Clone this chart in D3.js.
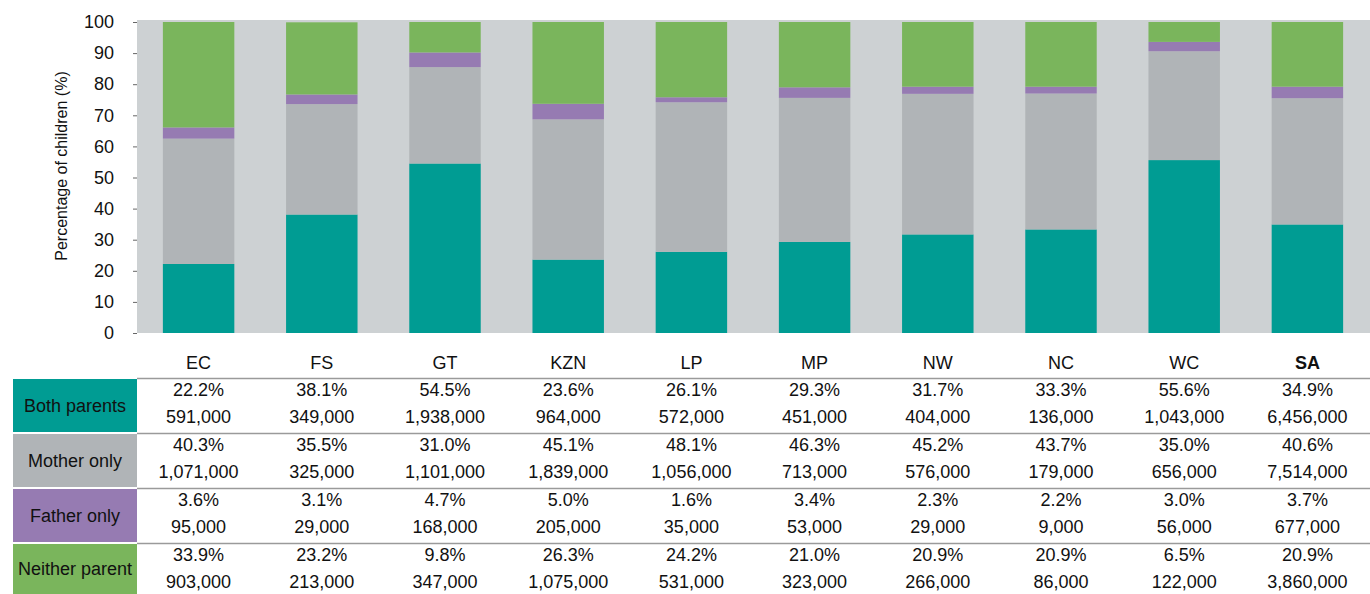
<!DOCTYPE html>
<html>
<head>
<meta charset="utf-8">
<script src="https://cdn.jsdelivr.net/npm/d3@7"></script>
<style>
  body { margin: 0; background: #fff; }
  svg { display: block; font-family: "Liberation Sans", Arial, sans-serif; }
</style>
</head>
<body>
<svg id="chart" width="1370" height="594"></svg>
<script>
// Data
var provinces = ["EC", "FS", "GT", "KZN", "LP", "MP", "NW", "NC", "WC", "SA"];
var groups = ["Both parents", "Mother only", "Father only", "Neither parent"];
var bothPct    = [22.2, 38.1, 54.5, 23.6, 26.1, 29.3, 31.7, 33.3, 55.6, 34.9];
var motherPct  = [40.3, 35.5, 31.0, 45.1, 48.1, 46.3, 45.2, 43.7, 35.0, 40.6];
var fatherPct  = [3.6, 3.1, 4.7, 5.0, 1.6, 3.4, 2.3, 2.2, 3.0, 3.7];
var neitherPct = [33.9, 23.2, 9.8, 26.3, 24.2, 21.0, 20.9, 20.9, 6.5, 20.9];
var bothN    = [591000, 349000, 1938000, 964000, 572000, 451000, 404000, 136000, 1043000, 6456000];
var motherN  = [1071000, 325000, 1101000, 1839000, 1056000, 713000, 576000, 179000, 656000, 7514000];
var fatherN  = [95000, 29000, 168000, 205000, 35000, 53000, 29000, 9000, 56000, 677000];
var neitherN = [903000, 213000, 347000, 1075000, 531000, 323000, 266000, 86000, 122000, 3860000];
var yTicks = [0, 10, 20, 30, 40, 50, 60, 70, 80, 90, 100];

var colors = ["#009c93", "#b0b4b7", "#967bb2", "#7ab55c"];
var pcts = [bothPct, motherPct, fatherPct, neitherPct];
var counts = [bothN, motherN, fatherN, neitherN];

var svg = d3.select("#chart");

var plotLeft = 137, plotRight = 1369;
var x = d3.scaleBand().domain(provinces).range([plotLeft, plotRight]).paddingInner(0.42).paddingOuter(0.21);
var y = d3.scaleLinear().domain([0, 100]).range([333, 22]);

// Plot background
svg.append("rect")
    .attr("x", plotLeft)
    .attr("y", 20)
    .attr("width", plotRight - plotLeft + 1)
    .attr("height", 333 - 20)
    .attr("fill", "#cdd1d3");

// Stacked bars
var rows = provinces.map(function(p, i) {
    return { prov: p, both: bothPct[i], mother: motherPct[i], father: fatherPct[i], neither: neitherPct[i] };
});
var stack = d3.stack().keys(["both", "mother", "father", "neither"]);
var series = stack(rows);

svg.selectAll("g.layer")
    .data(series)
    .enter()
    .append("g")
    .attr("class", "layer")
    .attr("fill", function(d, i) { return colors[i]; })
    .selectAll("rect")
    .data(function(d) { return d; })
    .enter()
    .append("rect")
    .attr("x", function(d) { return x(d.data.prov); })
    .attr("width", x.bandwidth())
    .attr("y", function(d) { return y(Math.min(d[1], 100)); })
    .attr("height", function(d) { return y(d[0]) - y(Math.min(d[1], 100)); });

// Y axis
var yAxis = d3.axisLeft(y).tickValues(yTicks).tickSize(4).tickPadding(19);
var yg = svg.append("g")
    .attr("transform", "translate(" + plotLeft + ",0)")
    .call(yAxis);
yg.select(".domain").remove();
yg.selectAll(".tick line").attr("stroke", "#666");
yg.selectAll(".tick text")
    .attr("fill", "#111")
    .style("font-size", "18px")
    .style("font-family", "Liberation Sans, Arial, sans-serif");

svg.append("text")
    .attr("transform", "translate(67,166) rotate(-90)")
    .attr("text-anchor", "middle")
    .attr("fill", "#111")
    .style("font-size", "16px")
    .text("Percentage of children (%)");

// Category labels
svg.selectAll("text.cat")
    .data(provinces)
    .enter()
    .append("text")
    .attr("class", "cat")
    .attr("x", function(d) { return x(d) + x.bandwidth() / 2; })
    .attr("y", 369)
    .attr("text-anchor", "middle")
    .attr("fill", "#111")
    .style("font-size", "18px")
    .style("font-weight", function(d) { return d == "SA" ? "bold" : "normal"; })
    .text(function(d) { return d; });

// Table
var rowTop = [378, 433, 488, 543];
var fmt = d3.format(",");

groups.forEach(function(g, r) {
    var top = rowTop[r];
    var bottom = r < 3 ? rowTop[r + 1] : 594;
    svg.append("rect")
        .attr("x", 13)
        .attr("y", top + 1)
        .attr("width", plotLeft - 13)
        .attr("height", bottom - top - 2 + (r == 3 ? 1 : 0))
        .attr("fill", colors[r]);
    svg.append("text")
        .attr("x", 75)
        .attr("y", (top + bottom) / 2 + 6)
        .attr("text-anchor", "middle")
        .attr("fill", "#111")
        .style("font-size", "18px")
        .text(g);
    svg.append("line")
        .attr("x1", plotLeft)
        .attr("x2", 1370)
        .attr("y1", top + 0.5)
        .attr("y2", top + 0.5)
        .attr("stroke", "#9a9a9a")
        .attr("stroke-width", 1.5);

    svg.selectAll("text.pct" + r)
        .data(provinces)
        .enter()
        .append("text")
        .attr("x", function(d) { return x(d) + x.bandwidth() / 2; })
        .attr("y", top + 18)
        .attr("text-anchor", "middle")
        .attr("fill", "#111")
        .style("font-size", "18px")
        .text(function(d, i) { return pcts[r][i].toFixed(1) + "%"; });

    svg.selectAll("text.num" + r)
        .data(provinces)
        .enter()
        .append("text")
        .attr("x", function(d) { return x(d) + x.bandwidth() / 2; })
        .attr("y", top + 45)
        .attr("text-anchor", "middle")
        .attr("fill", "#111")
        .style("font-size", "18px")
        .text(function(d, i) { return fmt(counts[r][i]); });
});
</script>
</body>
</html>
